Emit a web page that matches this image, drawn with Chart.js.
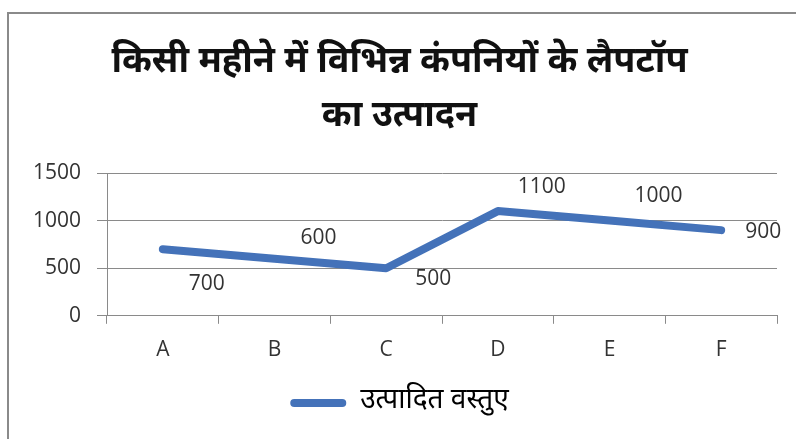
<!DOCTYPE html>
<html>
<head>
<meta charset="utf-8">
<script src="https://cdn.jsdelivr.net/npm/chart.js@4.4.1/dist/chart.umd.min.js"></script>
<style>
  body { margin: 0; background: #fff; }
  #frame { position: absolute; left: 7px; top: 12px; width: 820px; height: 460px; border: 2px solid #8a8a8a; }
  #wrap { position: absolute; left: 0; top: 0; width: 796px; height: 439px; }
</style>
</head>
<body>
<div id="frame"></div>
<div id="wrap"><canvas id="chart"></canvas></div>
<script>
const companies = ['A', 'B', 'C', 'D', 'E', 'F'];
const laptops = [700, 600, 500, 1100, 1000, 900];
const seriesName = 'उत्पादित वस्तुए';
const titleLines = ['किसी महीने में विभिन्न कंपनियों के लैपटॉप', 'का उत्पादन'];

// where each value label sits relative to its point (px)
const labelShift = [[44, 35], [44, -21], [47, 11], [44, -24], [49, -25], [42, 2]];

const hindi = '"Noto Sans Devanagari", "Lohit Devanagari", Mangal, "FreeSans", "Noto Sans", sans-serif';
const latin = '"Open Sans", "Noto Sans", sans-serif';

const valueLabels = {
  id: 'valueLabels',
  afterDatasetsDraw(chart) {
    const ctx = chart.ctx;
    const meta = chart.getDatasetMeta(0);
    ctx.save();
    ctx.font = '21px ' + latin;
    ctx.fillStyle = '#333';
    ctx.textAlign = 'center';
    ctx.textBaseline = 'middle';
    meta.data.forEach((pt, i) => {
      ctx.fillText(laptops[i], pt.x + labelShift[i][0], pt.y + labelShift[i][1]);
    });
    ctx.restore();
  }
};

new Chart(document.getElementById('chart'), {
  type: 'line',
  data: {
    labels: companies,
    datasets: [{
      label: seriesName,
      data: laptops,
      borderColor: '#4472b9',
      backgroundColor: '#4472b9',
      borderWidth: 8,
      borderJoinStyle: 'round',
      borderCapStyle: 'round',
      pointRadius: 0,
      tension: 0
    }]
  },
  options: {
    responsive: true,
    maintainAspectRatio: false,
    animation: false,
    layout: { padding: { left: 22, right: 19, top: 0, bottom: 12 } },
    plugins: {
      title: {
        display: true,
        text: titleLines,
        color: '#111',
        font: { family: hindi, size: 36, weight: 'bold', lineHeight: 1.5 },
        padding: { top: 38, bottom: 27 }
      },
      legend: {
        position: 'bottom',
        labels: {
          color: '#222',
          font: { family: hindi, size: 28 },
          boxWidth: 56,
          boxHeight: 8,
          generateLabels: chart => [{
            text: seriesName,
            fillStyle: '#4472b9',
            strokeStyle: '#4472b9',
            lineWidth: 0,
            borderRadius: 4,
            datasetIndex: 0
          }],
          useBorderRadius: true
        }
      },
      tooltip: { enabled: false }
    },
    scales: {
      x: {
        offset: true,
        grid: { offset: true, drawOnChartArea: false, tickLength: 8, color: '#8a8a8a' },
        border: { color: '#8a8a8a', width: 1 },
        ticks: { color: '#333', font: { family: latin, size: 21 }, padding: 14 },
        afterFit: s => { s.height += 2; }
      },
      y: {
        min: 0,
        max: 1500,
        ticks: { stepSize: 500, color: '#333', font: { family: latin, size: 21 }, padding: 16, callback: v => String(v) },
        grid: { color: '#8a8a8a', tickLength: 10 },
        border: { color: '#8a8a8a', width: 1 },
        afterFit: s => { s.width = 85; }
      }
    }
  },
  plugins: [valueLabels]
});
</script>
</body>
</html>
